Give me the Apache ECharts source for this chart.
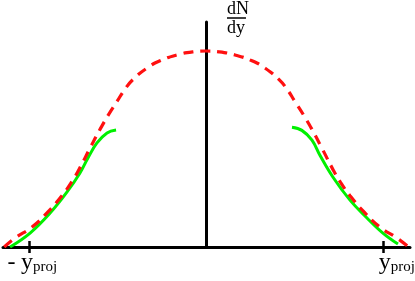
<!DOCTYPE html>
<html>
<head>
<meta charset="utf-8">
<script src="https://cdn.jsdelivr.net/npm/echarts@6/dist/echarts.min.js"></script>
<style>
html,body{margin:0;padding:0;background:#fff;}
#c{width:415px;height:281px;}
</style>
</head>
<body>
<div id="c"></div>
<script>
// Red dashed curve (units: x in y_proj, y relative to peak)
var redX = [-1.14,-1.079,-0.983,-0.893,-0.814,-0.757,-0.712,-0.655,-0.599,-0.554,-0.503,-0.458,-0.412,-0.333,-0.26,-0.164,-0.073,0,
             0.073,0.164,0.26,0.333,0.412,0.458,0.503,0.554,0.599,0.655,0.712,0.757,0.814,0.893,0.983,1.079,1.145];
var redY = [0,0.046,0.102,0.179,0.262,0.335,0.405,0.505,0.600,0.670,0.742,0.805,0.855,0.913,0.950,0.980,0.996,1,
             0.996,0.980,0.950,0.913,0.855,0.805,0.742,0.670,0.600,0.505,0.405,0.335,0.262,0.179,0.102,0.046,0];
// Green curves
var greenLeftX = [-1.107,-0.994,-0.881,-0.785,-0.712,-0.667,-0.616,-0.559,-0.508];
var greenLeftY = [0,0.071,0.173,0.281,0.378,0.454,0.531,0.582,0.597];
var greenRightX = [0.486,0.542,0.599,0.644,0.718,0.814,0.910,1.0,1.085];
var greenRightY = [0.611,0.595,0.545,0.468,0.356,0.239,0.148,0.071,0.015];
// Tick positions and labels
var tickValues = [-1, 1];
var tickSub = 'proj';
var axisName = ['dN', 'dy'];

function pairs(xs, ys){ return xs.map(function(x,i){ return [x, ys[i]]; }); }

var serif = 'Liberation Serif';
var chart = echarts.init(document.getElementById('c'), null, {renderer:'canvas'});
chart.setOption({
  animation: false,
  backgroundColor: '#fff',
  grid: {left: 3, right: 5, top: 22, bottom: 34, containLabel: false, outerBoundsMode: 'none'},
  xAxis: [{
    type: 'value', min: -1.147, max: 1.153, position: 'bottom',
    axisLine: {show: true, onZero: false, lineStyle: {color: '#000', width: 3}},
    splitLine: {show: false},
    axisTick: {show: true, customValues: tickValues, length: 6, lineStyle: {color: '#000', width: 2.5}},
    axisLabel: {
      show: true, customValues: tickValues, margin: 4,
      formatter: function(v){
        if (v < 0) return '{g2| }{m|-}{y|y}{s|' + tickSub + '}';
        return '{g| }{y|y}{s|' + tickSub + '}';
      },
      rich: {
        g: {width: 28, fontSize: 10},
        g2: {width: 1, fontSize: 10},
        m: {width: 19, fontFamily: serif, fontSize: 24, color: '#000', verticalAlign: 'top', lineHeight: 24},
        y: {fontFamily: serif, fontSize: 24, color: '#000', verticalAlign: 'top', lineHeight: 24},
        s: {fontFamily: serif, fontSize: 15, color: '#000', verticalAlign: 'bottom', lineHeight: 15, padding: [14,0,0,0]}
      }
    }
  },{
    type: 'value', min: -1.147, max: 1.153, position: 'bottom', offset: 0,
    axisLine: {show: false},
    splitLine: {show: false},
    axisTick: {show: true, inside: true, customValues: tickValues, length: 6, lineStyle: {color: '#000', width: 2.5}},
    axisLabel: {show: false}
  }],
  yAxis: {
    type: 'value', min: 0, max: 1.148,
    axisLine: {show: true, onZero: true, lineStyle: {color: '#000', width: 3}},
    axisTick: {show: false}, axisLabel: {show: false}, splitLine: {show: false},
    name: '{n|' + axisName[0] + '}\n{bar| }\n{d|' + axisName[1] + '}',
    nameLocation: 'end', nameGap: 3,
    nameTextStyle: {
      align: 'left', verticalAlign: 'middle', padding: [0,0,0,21],
      rich: {
        n: {fontFamily: serif, fontSize: 18, color: '#000', lineHeight: 15},
        bar: {width: 19, height: 1.5, backgroundColor: '#000', lineHeight: 3, fontSize: 2},
        d: {fontFamily: serif, fontSize: 18, color: '#000', lineHeight: 17}
      }
    }
  },
  series: [
    {type: 'line', data: pairs(greenLeftX, greenLeftY), symbol: 'none', smooth: 0.4,
     lineStyle: {color: '#00f000', width: 3}, z: 3},
    {type: 'line', data: pairs(greenRightX, greenRightY), symbol: 'none', smooth: 0.4,
     lineStyle: {color: '#00f000', width: 3}, z: 3},
    {type: 'line', data: pairs(redX, redY), symbol: 'none', smooth: 0.5,
     lineStyle: {color: '#ff1010', width: 3.2, type: [10,7], cap: 'butt'}, z: 4}
  ]
});
</script>
</body>
</html>
